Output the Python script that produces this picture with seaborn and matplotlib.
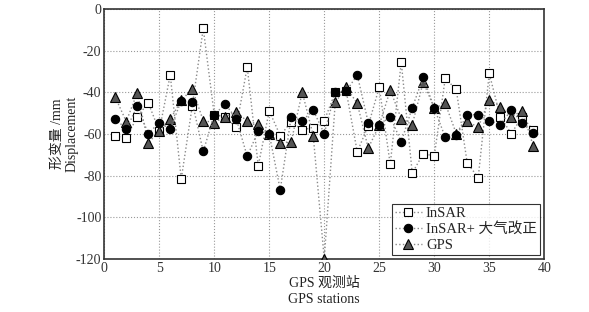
import numpy as np
import pandas as pd
import matplotlib
matplotlib.use('Agg')
import matplotlib.pyplot as plt
import seaborn as sns

# Số liệu
stations = list(range(1, 40))
insar = [-60.9, -62.0, -51.7, -45.0, -58.5, -31.6, -81.7, -46.6, -9.3, -50.7,
         -51.8, -56.8, -27.8, -75.3, -48.9, -60.8, -54.1, -58.0, -56.9, -53.6,
         -40.0, -39.5, -68.6, -56.0, -37.5, -74.6, -25.4, -78.8, -69.4, -70.6,
         -33.3, -38.6, -74.0, -80.9, -30.9, -51.7, -59.8, -51.7, -58.2]
insar_corr = [-52.6, -57.7, -46.7, -59.8, -54.5, -57.7, -44.0, -44.8, -68.4, -50.7,
              -45.6, -52.6, -70.8, -58.5, -60.0, -86.8, -51.7, -53.7, -48.6, -59.8,
              -40.0, -39.5, -31.6, -54.5, -55.8, -51.7, -63.8, -47.4, -32.8, -47.5,
              -61.6, -60.3, -50.7, -50.7, -53.6, -55.5, -48.6, -54.7, -59.6]
gps = [-42.3, -54.0, -40.2, -64.3, -58.5, -52.8, -43.9, -38.3, -53.6, -54.5,
       -51.7, -49.3, -53.9, -55.2, -60.0, -64.4, -63.6, -39.9, -60.8, -120.0,
       -44.8, -37.6, -45.3, -66.8, -55.8, -38.9, -52.6, -55.5, -35.1, -47.5,
       -45.3, -59.8, -53.9, -56.8, -43.5, -46.9, -51.8, -48.8, -65.7]
series_names = ['InSAR', 'InSAR+ 大气改正', 'GPS']

df = pd.DataFrame({'station': stations * 3,
                   'value': insar + insar_corr + gps,
                   'series': sum([[n] * len(stations) for n in series_names], [])})

sns.set_style('white')
plt.rcParams['font.family'] = ['Liberation Serif', 'Noto Sans CJK SC']
plt.rcParams['axes.unicode_minus'] = False

fig = plt.figure(figsize=(5.89, 3.12), dpi=100)
ax = fig.add_axes([0.177, 0.170, 0.747, 0.801])

styles = {
    'InSAR': dict(marker='s', mfc='white', mec='black', ms=5.5, zorder=3),
    'InSAR+ 大气改正': dict(marker='o', mfc='black', mec='black', ms=6, zorder=4),
    'GPS': dict(marker='^', mfc='#555555', mec='black', ms=6.5, zorder=3),
}
for name in series_names:
    sub = df[df['series'] == name]
    sns.lineplot(data=sub, x='station', y='value', ax=ax, color='#8a8a8a',
                 linestyle=':', linewidth=1.0, label=name, mew=0.8,
                 **styles[name])

ax.set_xlim(0, 40)
ax.set_ylim(-120, 0)
ax.set_xticks(range(0, 41, 5))
ax.set_yticks(range(-120, 1, 20))
ax.grid(True, linestyle=':', color='#999999', linewidth=0.8)
ax.tick_params(direction='in', labelsize=10, length=3, colors='#333333', pad=2)
for sp in ax.spines.values():
    sp.set_color('#333333')
    sp.set_linewidth(1.2)

ax.set_xlabel('GPS 观测站\nGPS stations', fontsize=10, color='#222222',
              linespacing=1.35, labelpad=1)
ax.set_ylabel('形变量 /mm\nDisplacement', fontsize=10, color='#222222',
              linespacing=1.2)
ax.yaxis.set_label_coords(-0.058, 0.5)

leg = ax.legend(loc='lower right', fontsize=10.5, frameon=True, fancybox=False,
                borderpad=0.2, labelspacing=0.15, handlelength=1.8,
                handletextpad=0.3, borderaxespad=0.3)
leg.get_frame().set_edgecolor('black')
leg.get_frame().set_linewidth(0.8)

fig.savefig('out.png', dpi=100)
